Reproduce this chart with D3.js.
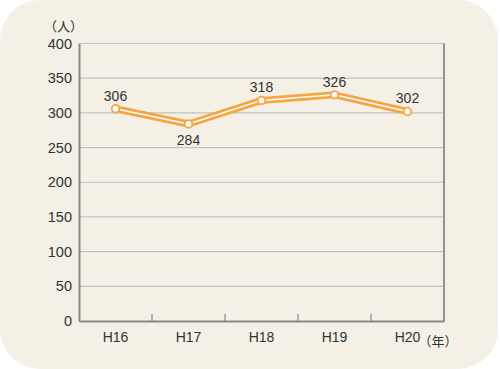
<!DOCTYPE html>
<html>
<head>
<meta charset="utf-8">
<script src="https://cdn.jsdelivr.net/npm/d3@7"></script>
<style>
  body { margin: 0; background: #ffffff; }
  text { font-family: "Liberation Sans", Arial, sans-serif; fill: #333; }
</style>
</head>
<body>
<div id="chart"></div>
<script>
// data
const years = ["H16", "H17", "H18", "H19", "H20"];
const people = [306, 284, 318, 326, 302];
const yTicks = [0, 50, 100, 150, 200, 250, 300, 350, 400];
const labelBelow = [false, true, false, false, false];

const w = 500, h = 369;
const margin = { top: 43.5, right: 55, bottom: 48, left: 79 };

const svg = d3.select("#chart").append("svg")
    .attr("width", w)
    .attr("height", h);

// background panel
svg.append("rect")
    .attr("x", 0).attr("y", 0)
    .attr("width", 498).attr("height", 369)
    .attr("rx", 40).attr("ry", 40)
    .attr("fill", "#f4f0e5");

// SCALES
const x = d3.scaleBand()
    .domain(years)
    .range([margin.left, w - margin.right - 1]);

const y = d3.scaleLinear()
    .domain([0, 400])
    .range([h - margin.bottom, margin.top]);

// grid lines
svg.append("g")
    .selectAll("line")
    .data(yTicks.filter(d => d > 0))
    .join("line")
    .attr("x1", margin.left).attr("x2", x.range()[1])
    .attr("y1", d => y(d)).attr("y2", d => y(d))
    .attr("stroke", "#c4c2bc")
    .attr("stroke-width", 1.2);

// right border
svg.append("line")
    .attr("x1", x.range()[1]).attr("x2", x.range()[1])
    .attr("y1", y(400)).attr("y2", y(0))
    .attr("stroke", "#8a8884").attr("stroke-width", 1.8);

// AXES
const yAxis = svg.append("g")
    .attr("transform", "translate(" + margin.left + ",0)")
    .call(d3.axisLeft(y).tickValues(yTicks).tickSize(0).tickPadding(7));
yAxis.select(".domain").attr("stroke", "#8a8884").attr("stroke-width", 2);
yAxis.selectAll("text")
    .style("font-size", "14.5px")
    .attr("fill", "#333");

const xAxis = svg.append("g")
    .attr("transform", "translate(0," + y(0) + ")")
    .call(d3.axisBottom(x).tickSize(0).tickPadding(11));
xAxis.select(".domain").attr("stroke", "#8a8884").attr("stroke-width", 2);
xAxis.selectAll("text")
    .style("font-size", "14px")
    .attr("fill", "#333");

// inner tick marks between categories
svg.append("g")
    .selectAll("line")
    .data(years.slice(1))
    .join("line")
    .attr("x1", d => x(d)).attr("x2", d => x(d))
    .attr("y1", y(0)).attr("y2", y(0) - 7)
    .attr("stroke", "#8a8884").attr("stroke-width", 1.2);

// units
svg.append("text")
    .attr("x", 44).attr("y", 31)
    .style("font-size", "13px")
    .style("font-family", "'Noto Sans CJK JP', sans-serif")
    .text("（人）");

svg.append("text")
    .attr("x", x("H20") + x.bandwidth() / 2 + 11).attr("y", y(0) + 25)
    .style("font-size", "13px")
    .style("font-family", "'Noto Sans CJK JP', sans-serif")
    .text("（年）");

// LINE
const pts = years.map((d, i) => [x(d) + x.bandwidth() / 2, y(people[i])]);
const line = d3.line();

svg.append("path")
    .attr("d", line(pts))
    .attr("fill", "none")
    .attr("stroke", "#f6a544")
    .attr("stroke-width", 7)
    .attr("stroke-linejoin", "round");

svg.append("path")
    .attr("d", line(pts))
    .attr("fill", "none")
    .attr("stroke", "#ffffff")
    .attr("stroke-width", 1.5)
    .attr("stroke-linejoin", "round");

svg.append("g")
    .selectAll("circle")
    .data(pts)
    .join("circle")
    .attr("cx", d => d[0]).attr("cy", d => d[1])
    .attr("r", 3.8)
    .attr("fill", "#ffffff")
    .attr("stroke", "#f6a544")
    .attr("stroke-width", 1.8);

// value labels
svg.append("g")
    .selectAll("text")
    .data(people)
    .join("text")
    .attr("x", (d, i) => pts[i][0])
    .attr("y", (d, i) => labelBelow[i] ? pts[i][1] + 21 : pts[i][1] - 8)
    .attr("text-anchor", "middle")
    .style("font-size", "14px")
    .text(d => d);
</script>
</body>
</html>
